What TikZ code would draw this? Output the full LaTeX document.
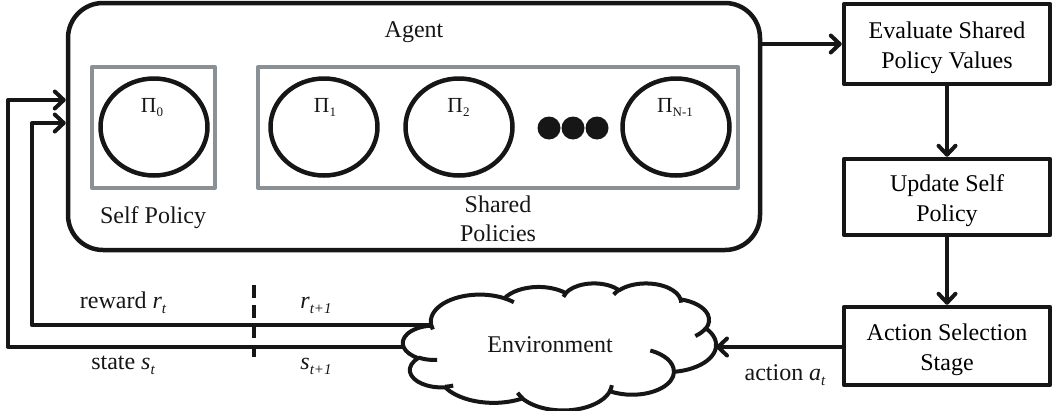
\documentclass[tikz,border=0pt]{standalone}
\usepackage{fontspec}
\setmainfont{Liberation Serif}
\usetikzlibrary{arrows.meta,shapes.geometric}

\definecolor{framegray}{RGB}{137,144,150}
\definecolor{ink}{RGB}{22,22,22}

% policy name with a small lowered index
\newcommand\polname[1]{{\fontsize{21.5}{21.5}\selectfont Π\raisebox{-4pt}{\fontsize{13}{13}\selectfont #1}}}
% small italic subscript for time indices
\newcommand\lowsub[1]{\raisebox{-5pt}{\fontsize{15}{15}\selectfont\itshape #1}}

\tikzset{
  lbl/.style={font=\fontsize{24}{30}\selectfont, inner sep=0pt, text=ink},
  stagebox/.style={draw=ink, line width=4.5pt, minimum width=206pt, inner sep=0pt,
    align=center, text height=48.5pt, text depth=0pt, font=\fontsize{24}{30}\selectfont},
  holder/.style={draw=framegray, line width=4pt, inner sep=0pt},
  policy/.style={draw=ink, ellipse, line width=4.5pt, minimum width=107pt,
    minimum height=97pt, inner sep=0pt},
  dotmark/.style={circle, fill=ink, minimum size=23pt, inner sep=0pt},
  wire/.style={draw=ink, line width=4pt},
  flow/.style={wire, -{Straight Barb[length=9pt,width=17pt,round]}},
  % elliptic arc given by radii, start direction and sweep (directions as seen from the centre)
  oarc/.style n args={4}{insert path={arc[x radius=#1, y radius=#2,
    start angle={atan2((#1)*sin(#3),(#2)*cos(#3))},
    delta angle={mod(atan2((#1)*sin((#3)+(#4)),(#2)*cos((#3)+(#4)))-atan2((#1)*sin(#3),(#2)*cos(#3))+720,360)}]}},
}

\begin{document}
\begin{tikzpicture}[x=1pt, y=-1pt, line join=round]
\useasboundingbox (0,0) rectangle (1053,410);

% ---------------- agent ----------------
\node[draw=ink, line width=4.5pt, rounded corners=35pt, minimum width=692pt,
      minimum height=247pt, inner sep=0pt] (agent) at (414,126.5) {};
\node[lbl, anchor=base] (agentlbl) at (414,37) {Agent};

\node[holder, minimum width=123pt, minimum height=121pt] (selfbox) at (153.5,127.5) {};
\node[holder, minimum width=480pt, minimum height=121pt] (sharedbox) at (498,127.5) {};

\node[policy] (p0) at (154,127) {};
\node[policy] (p1) at (324,127) {};
\node[policy] (p2) at (459,127) {};
\node[policy] (pn) at (676,127) {};
\node[lbl, anchor=base] (p0lbl) at (152,112) {\polname{0}};
\node[lbl, anchor=base] (p1lbl) at (325,112) {\polname{1}};
\node[lbl, anchor=base] (p2lbl) at (458.5,112) {\polname{2}};
\node[lbl, anchor=base] (pnlbl) at (675,112) {\polname{N-1}};

\node[dotmark] (dot1) at (549,128) {};
\node[dotmark] (dot2) at (573,128) {};
\node[dotmark] (dot3) at (597,128) {};

\node[lbl, anchor=base] (selflbl) at (153,223) {Self Policy};
\node[lbl, align=center, font=\fontsize{24}{29}\selectfont] (sharedlbl) at (498,218.3) {Shared\\Policies};

% ---------------- stages ----------------
\node[stagebox, minimum height=80pt] (eval) at (947,44) {Evaluate Shared\\Policy Values};
\node[stagebox, minimum height=76pt] (update) at (947,197) {Update Self\\Policy};
\node[stagebox, minimum height=78pt] (act) at (947,346) {Action Selection\\Stage};

% ---------------- environment cloud ----------------
\begin{scope}[shift={(403,283)}, xscale=313/43.2, yscale=127/43.2]
  \draw[draw=ink, line width=4pt, fill=white] (3.9,14.37)
    [oarc={6.753}{9.190}{-190.4875}{123.7805}]
    [oarc={5.333}{7.267}{-144.1024}{89.9452}]
    [oarc={4.365}{5.945}{-145.8079}{99.7230}]
    [oarc={4.857}{6.595}{-130.9861}{117.2417}]
    [oarc={5.333}{7.273}{-78.7089}{109.0269}]
    [oarc={6.775}{9.220}{-46.2673}{130.2690}]
    [oarc={5.785}{7.867}{0.6250}{114.0333}]
    [oarc={6.752}{9.215}{22.4516}{115.1726}]
    [oarc={7.720}{10.543}{66.2426}{75.7110}]
    [oarc={4.360}{5.918}{-274.9421}{146.7356}]
    [oarc={4.345}{5.945}{-246.8285}{152.5189}] -- cycle;
  % inner folds of the puffs
  \draw[draw=ink, line width=4pt]
    (4.693,26.177) [oarc={4.345}{5.945}{86.742}{26.4295}]
    (6.928,34.899) [oarc={4.360}{5.918}{73.6105}{11.4475}]
    (16.478,39.090) [oarc={6.752}{9.215}{137.6242}{14.0811}]
    (28.827,34.751) [oarc={6.752}{9.215}{6.4533}{15.9984}]
    (34.129,22.954) [oarc={5.785}{7.867}{-70.2924}{70.9174}]
    (41.798,15.354) [oarc={5.333}{7.273}{30.318}{27.7515}]
    (38.324,5.426) [oarc={4.857}{6.595}{-13.7443}{14.8589}]
    (29.078,3.952) [oarc={4.857}{6.595}{-149.1815}{18.1954}]
    (22.141,4.720) [oarc={4.365}{5.945}{-163.4943}{17.6864}]
    (14.000,5.192) [oarc={6.753}{9.190}{-66.707}{12.3194}]
    (4.127,15.789) [oarc={6.753}{9.190}{157.6544}{11.8582}];
  \coordinate (rwin) at (3.9,14.37);
  \coordinate (stin) at (0.078,21.77);
  \coordinate (acin) at (43.199,21.77);
\end{scope}
\node[lbl, anchor=base] (env) at (550,352) {Environment};

% ---------------- connectors ----------------
\draw[flow] (agent.east |- eval.west) -- (eval.west);
\draw[flow] (eval.south) -- (update.north);
\draw[flow] (update.south) -- (act.north);
\draw[flow] (act.west |- acin) -- (acin);

\coordinate (rwbend) at (32,123);
\coordinate (stbend) at (8,100);
\draw[flow] (rwin) -| (rwbend) -- (rwbend -| agent.west);
\draw[flow] (stin) -| (stbend) -- (stbend -| agent.west);

% time step separator
\coordinate (sepA) at (254,285);
\coordinate (sepB) at (254,357);
\draw[wire, dash pattern=on 13pt off 7pt] (sepA) -- (sepB);

\node[lbl, anchor=base] (rwlbl) at (123,308) {reward \textit{r}\lowsub{t}};
\node[lbl, anchor=base] (stlbl) at (123,369) {state \textit{s}\lowsub{t}};
\node[lbl, anchor=base] (rwnext) at (316,308) {\textit{r}\lowsub{t+1}};
\node[lbl, anchor=base] (stnext) at (316,369) {\textit{s}\lowsub{t+1}};
\node[lbl, anchor=base] (actlbl) at (785,380) {action \textit{a}\lowsub{t}};
\end{tikzpicture}
\end{document}
